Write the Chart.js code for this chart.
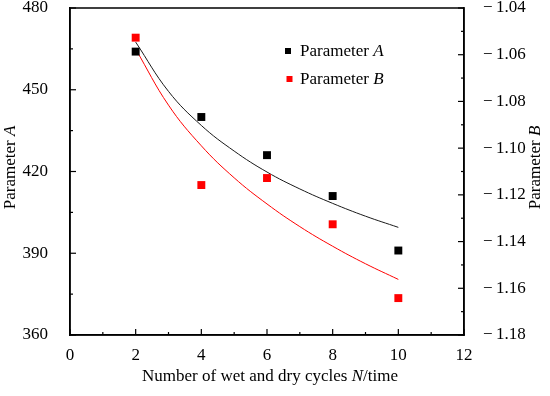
<!DOCTYPE html>
<html><head><meta charset="utf-8">
<script src="https://cdn.jsdelivr.net/npm/chart.js@4/dist/chart.umd.min.js"></script>
<style>html,body{margin:0;padding:0;background:#fff;}#wrap{width:550px;height:396px;position:relative;}</style>
</head><body><div id="wrap"><canvas id="c" width="550" height="396"></canvas></div>
<script>
// ---- data ----
const cycles = [2, 4, 6, 8, 10];
const paramA = [464, 440, 426, 411, 391];
const paramB = [-1.0527, -1.1158, -1.1128, -1.1326, -1.1642];
const fitX = [2, 3, 4, 5, 6, 7, 8, 9, 10];
const fitA = [467.5, 449.4, 436.9, 427.5, 419.8, 413.6, 408.3, 403.6, 399.5];
const fitB = [-1.0576, -1.0816, -1.0990, -1.1127, -1.1239, -1.1336, -1.1420, -1.1495, -1.1562];
const xTickLabels = ['0', '2', '4', '6', '8', '10', '12'];
const yLeftTickLabels = ['360', '390', '420', '450', '480'];
const yRightTickLabels = ['1.18', '1.16', '1.14', '1.12', '1.10', '1.08', '1.06', '1.04'];
const seriesNames = ['Parameter ', 'Parameter '];
const seriesItalic = ['A', 'B'];
const xTitle = ['Number of wet and dry cycles ', 'N', '/time'];

const FONT = "'Liberation Serif', 'Times New Roman', serif";
const FS = 17;

function pts(xs, ys) { return xs.map((x, i) => ({ x: x, y: ys[i] })); }
function absLabel(v) { return Math.abs(v).toFixed(2); }
function fmtRight(v) { return '\u2212\u2009' + absLabel(v); }

function drawMixed(ctx, parts, x, y, align) {
  let total = 0;
  const widths = parts.map(p => { ctx.font = (p[1] ? 'italic ' : '') + FS + 'px ' + FONT; const w = ctx.measureText(p[0]).width; total += w; return w; });
  let cx = align === 'center' ? x - total / 2 : x;
  ctx.textAlign = 'left';
  parts.forEach((p, i) => { ctx.font = (p[1] ? 'italic ' : '') + FS + 'px ' + FONT; ctx.fillText(p[0], cx, y); cx += widths[i]; });
}

const decor = {
  id: 'decor',
  afterDraw(chart) {
    const ctx = chart.ctx, a = chart.chartArea;
    ctx.save();
    ctx.strokeStyle = '#000';
    ctx.lineWidth = 1.2;
    const sx = chart.scales.x, sy = chart.scales.y, sy1 = chart.scales.y1;
    sx.ticks.forEach(t => { const p = sx.getPixelForValue(t.value); const L = xTickLabels.includes(String(t.value)) ? 6 : 3; ctx.beginPath(); ctx.moveTo(p, a.bottom); ctx.lineTo(p, a.bottom - L); ctx.stroke(); });
    sy.ticks.forEach(t => { const p = sy.getPixelForValue(t.value); const L = yLeftTickLabels.includes(String(t.value)) ? 6 : 3; ctx.beginPath(); ctx.moveTo(a.left, p); ctx.lineTo(a.left + L, p); ctx.stroke(); });
    sy1.ticks.forEach(t => { const p = sy1.getPixelForValue(t.value); const L = yRightTickLabels.includes(absLabel(t.value)) ? 6 : 3; ctx.beginPath(); ctx.moveTo(a.right, p); ctx.lineTo(a.right - L, p); ctx.stroke(); });
    ctx.lineWidth = 1.5;
    ctx.strokeRect(a.left, a.top, a.right - a.left, a.bottom - a.top);
    ctx.fillStyle = '#000';
    ctx.textBaseline = 'middle';
    drawMixed(ctx, [[xTitle[0], false], [xTitle[1], true], [xTitle[2], false]], (a.left + a.right) / 2 + 3, 377, 'center');
    const cy = (a.top + a.bottom) / 2 - 4;
    ctx.save(); ctx.translate(11, cy); ctx.rotate(-Math.PI / 2);
    drawMixed(ctx, [[seriesNames[0], false], [seriesItalic[0], true]], 0, 0, 'center'); ctx.restore();
    ctx.save(); ctx.translate(536, cy); ctx.rotate(-Math.PI / 2);
    drawMixed(ctx, [[seriesNames[1], false], [seriesItalic[1], true]], 0, 0, 'center'); ctx.restore();
    const colors = ['#000000', '#ff0000'];
    const ly = [51, 79];
    for (let i = 0; i < 2; i++) {
      ctx.fillStyle = colors[i];
      ctx.fillRect(285 + i * 1.5, ly[i] - 3, 6, 6);
      ctx.fillStyle = '#000';
      drawMixed(ctx, [[seriesNames[i], false], [seriesItalic[i], true]], 300, ly[i] + 1, 'left');
    }
    ctx.restore();
  }
};

function noPadY(s, w) { s.width = w; s.paddingTop = 0; s.paddingBottom = 0; }

new Chart(document.getElementById('c'), {
  type: 'scatter',
  data: {
    datasets: [
      { label: 'Parameter A', data: pts(cycles, paramA), yAxisID: 'y', pointStyle: 'rect', pointRadius: 5.6, pointHoverRadius: 5.6, backgroundColor: '#000', borderWidth: 0, order: 0 },
      { label: 'Parameter B', data: pts(cycles, paramB), yAxisID: 'y1', pointStyle: 'rect', pointRadius: 5.6, pointHoverRadius: 5.6, backgroundColor: '#ff0000', borderWidth: 0, order: 0 },
      { label: 'Fit A', data: pts(fitX, fitA), yAxisID: 'y', showLine: true, pointRadius: 0, borderColor: '#1a1a1a', borderWidth: 1, tension: 0.4, fill: false, order: 1 },
      { label: 'Fit B', data: pts(fitX, fitB), yAxisID: 'y1', showLine: true, pointRadius: 0, borderColor: '#ff0000', borderWidth: 1, tension: 0.4, fill: false, order: 1 }
    ]
  },
  options: {
    responsive: false,
    animation: false,
    devicePixelRatio: 1,
    layout: { padding: { top: 8, left: 0, right: 0, bottom: 0 } },
    plugins: { legend: { display: false }, tooltip: { enabled: false } },
    scales: {
      x: {
        type: 'linear', position: 'bottom', min: 0, max: 12,
        grid: { display: false }, border: { display: true, color: '#000', width: 1.5 },
        ticks: { stepSize: 1, autoSkip: false, maxRotation: 0, padding: 2, color: '#000', font: { family: FONT, size: FS },
          callback: v => xTickLabels.includes(String(v)) ? String(v) : '' },
        afterFit: s => { s.height = 61; s.paddingLeft = 0; s.paddingRight = 0; }
      },
      y: {
        type: 'linear', position: 'left', min: 360, max: 480,
        grid: { display: false }, border: { display: true, color: '#000', width: 1.5 },
        ticks: { stepSize: 15, autoSkip: false, padding: 14, color: '#000', font: { family: FONT, size: FS },
          callback: v => yLeftTickLabels.includes(String(v)) ? String(v) : '' },
        afterFit: s => noPadY(s, 70)
      },
      y1: {
        type: 'linear', position: 'right', min: -1.18, max: -1.04,
        grid: { display: false }, border: { display: true, color: '#000', width: 1.5 },
        ticks: { stepSize: 0.01, autoSkip: false, padding: 11, color: '#000', font: { family: FONT, size: FS },
          callback: v => yRightTickLabels.includes(absLabel(v)) ? fmtRight(v) : '' },
        afterFit: s => noPadY(s, 86)
      }
    }
  },
  plugins: [decor]
});
</script>
</body></html>
